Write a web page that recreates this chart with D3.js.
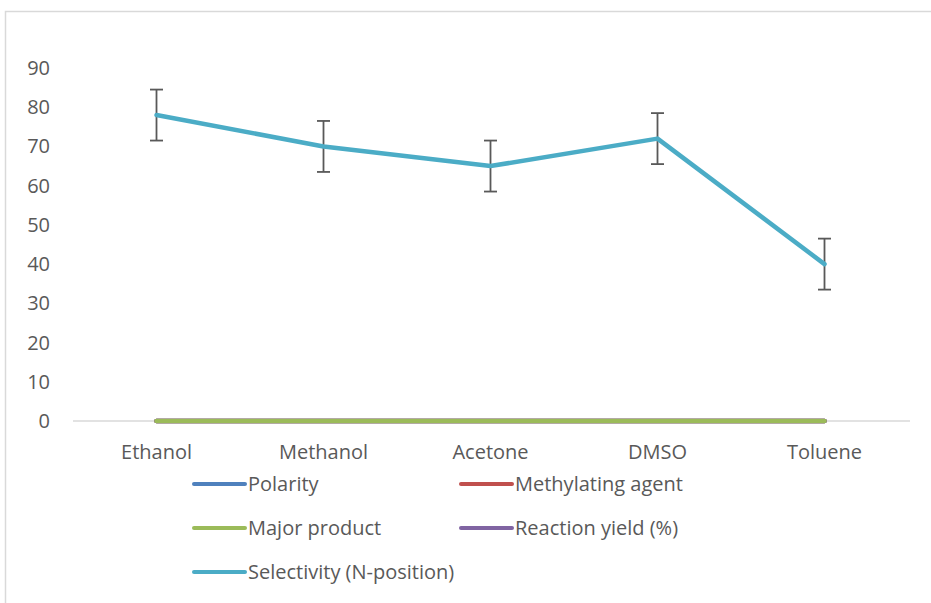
<!DOCTYPE html>
<html>
<head>
<meta charset="utf-8">
<script src="https://cdn.jsdelivr.net/npm/d3@7"></script>
<style>
  body { margin: 0; background: #fff; }
  text { font-family: "Open Sans", "Noto Sans", sans-serif; fill: #595959; }
</style>
</head>
<body>
<svg id="chart" width="931" height="603"></svg>
<script>
// data
const solvents = ["Ethanol", "Methanol", "Acetone", "DMSO", "Toluene"];
const polarity = [0, 0, 0, 0, 0];
const methylatingAgent = [0, 0, 0, 0, 0];
const reactionYield = [0, 0, 0, 0, 0];
const majorProduct = [0, 0, 0, 0, 0];
const selectivity = [78, 70, 65, 72, 40];
const selectivityErr = [6.5, 6.5, 6.5, 6.5, 6.5];
const yTicks = [0, 10, 20, 30, 40, 50, 60, 70, 80, 90];

// draw order (last one on top)
const series = [
  { name: "Polarity", values: polarity, color: "#4f81bd" },
  { name: "Methylating agent", values: methylatingAgent, color: "#c0504d" },
  { name: "Reaction yield (%)", values: reactionYield, color: "#8064a2" },
  { name: "Major product", values: majorProduct, color: "#9bbb59" },
  { name: "Selectivity (N-position)", values: selectivity, color: "#4bacc6", err: selectivityErr }
];
const legendOrder = ["Polarity", "Methylating agent", "Major product", "Reaction yield (%)", "Selectivity (N-position)"];

const svg = d3.select("#chart");
const fontSize = "20px";

// outer chart border
svg.append("rect")
  .attr("x", 5.5).attr("y", 11.5)
  .attr("width", 940).attr("height", 610)
  .attr("fill", "none")
  .attr("stroke", "#d9d9d9")
  .attr("stroke-width", 1.5);

const plotL = 73, plotR = 908, plotT = 68, plotB = 421;

let x = d3.scaleBand().domain(solvents).range([plotL, plotR]);
let y = d3.scaleLinear().domain([0, 90]).range([plotB, plotT]);

// y labels
svg.append("g").selectAll("text")
  .data(yTicks)
  .enter().append("text")
  .attr("x", 50)
  .attr("y", d => y(d))
  .attr("dy", "0.35em")
  .attr("text-anchor", "end")
  .style("font-size", fontSize)
  .text(d => d);

// x axis line
svg.append("line")
  .attr("x1", plotL).attr("x2", plotR + 2)
  .attr("y1", plotB).attr("y2", plotB)
  .attr("stroke", "#d9d9d9")
  .attr("stroke-width", 1.5);

svg.append("g").selectAll("text")
  .data(solvents)
  .enter().append("text")
  .attr("x", d => x(d) + x.bandwidth() / 2)
  .attr("y", 452)
  .attr("dy", "0.35em")
  .attr("text-anchor", "middle")
  .style("font-size", fontSize)
  .text(d => d);

let line = d3.line()
  .x((d, i) => x(solvents[i]) + x.bandwidth() / 2)
  .y(d => y(d));

series.forEach(s => {
  // error bars go under the line
  if (s.err) {
    let g = svg.append("g");
    s.values.forEach((v, i) => {
      let cx = x(solvents[i]) + x.bandwidth() / 2;
      let y1 = y(v + s.err[i]), y2 = y(v - s.err[i]);
      g.append("line").attr("x1", cx).attr("x2", cx).attr("y1", y1).attr("y2", y2)
        .attr("stroke", "#595959").attr("stroke-width", 1.8);
      [y1, y2].forEach(yy => {
        g.append("line").attr("x1", cx - 6.5).attr("x2", cx + 6.5).attr("y1", yy).attr("y2", yy)
          .attr("stroke", "#595959").attr("stroke-width", 1.8);
      });
    });
  }
  svg.append("path")
    .attr("d", line(s.values))
    .attr("fill", "none")
    .attr("stroke", s.color)
    .attr("stroke-width", 4.5)
    .attr("stroke-linejoin", "round")
    .attr("stroke-linecap", "round");
});

// legend
const legend = svg.append("g");
legendOrder.forEach((name, i) => {
  let s = series.find(d => d.name === name);
  let lx = i % 2 === 0 ? 194 : 461;
  let ly = 484 + Math.floor(i / 2) * 44;
  legend.append("line")
    .attr("x1", lx).attr("x2", lx + 51)
    .attr("y1", ly).attr("y2", ly)
    .attr("stroke", s.color)
    .attr("stroke-width", 4)
    .attr("stroke-linecap", "round");
  legend.append("text")
    .attr("x", lx + 54)
    .attr("y", ly)
    .attr("dy", "0.35em")
    .style("font-size", fontSize)
    .text(name);
});
</script>
</body>
</html>
